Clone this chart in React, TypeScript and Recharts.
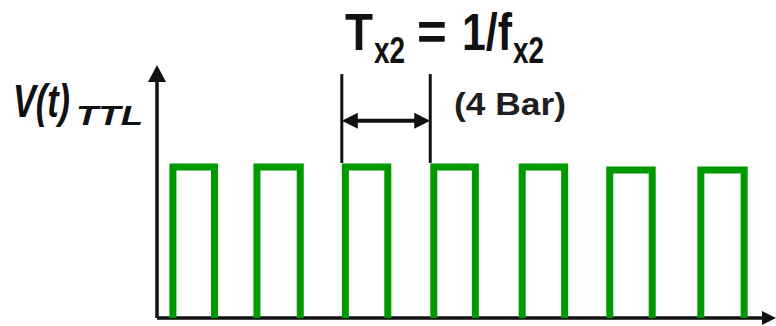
import { Line, LineChart, ReferenceDot, ReferenceLine, XAxis, YAxis } from "recharts";

// pulse edges in time units (x axis 0..7), levels in volts-ish units (y axis 0..10)
const riseTimes = [0.18, 1.13, 2.13, 3.13, 4.13, 5.12, 6.15];
const fallTimes = [0.65, 1.62, 2.61, 3.6, 4.61, 5.6, 6.64];
const highLevels = [5.97, 5.97, 5.97, 5.97, 5.97, 5.85, 5.85];
const lowLevels = [0, 0, 0, 0, 0, -0.12, -0.12];

const periodMarks = [2.09, 3.09];
const periodMarkRange = [6.13, 9.64];
const periodArrowLevel = 7.8;

const X_MAX = 7;
const Y_MAX = 10;

const GREEN = "#009900";
const INK = "#111";
const FONT = "'Liberation Sans', Arial, sans-serif";

type Pt = { t: number; v: number | null };

const wave: Pt[] = riseTimes.flatMap((r, i) => [
  { t: r, v: lowLevels[i] },
  { t: r, v: highLevels[i] },
  { t: fallTimes[i], v: highLevels[i] },
  { t: fallTimes[i], v: lowLevels[i] },
  { t: fallTimes[i] + 0.001, v: null },
]);

const arrowHead =
  (dir: "up" | "right" | "left", len: number, half: number) =>
  (p: any) => {
    const { cx, cy } = p;
    let pts = "";
    if (dir === "up") pts = `${cx},${cy} ${cx - half},${cy + len} ${cx + half},${cy + len}`;
    if (dir === "right") pts = `${cx},${cy} ${cx - len},${cy - half} ${cx - len},${cy + half}`;
    if (dir === "left") pts = `${cx},${cy} ${cx + len},${cy - half} ${cx + len},${cy + half}`;
    return <polygon points={pts} fill={INK} />;
  };

export default function App() {
  return (
    <div style={{ position: "absolute", left: 0, top: 0, width: 776, height: 326, background: "#fff" }}>
      <LineChart
        width={776}
        height={326}
        data={wave}
        margin={{ top: 65, right: 0, bottom: 8, left: 157 }}
      >
        <XAxis type="number" dataKey="t" domain={[0, X_MAX]} allowDataOverflow hide />
        <YAxis type="number" domain={[0, Y_MAX]} allowDataOverflow hide />
        {/* axes */}
        <ReferenceLine
          segment={[
            { x: 0, y: 0 },
            { x: X_MAX - 0.1, y: 0 },
          ]}
          stroke={INK}
          strokeWidth={3.5}
        />
        <ReferenceLine
          segment={[
            { x: 0, y: 0 },
            { x: 0, y: Y_MAX - 0.3 },
          ]}
          stroke={INK}
          strokeWidth={3.5}
        />
        {periodMarks.map((m) => (
          <ReferenceLine
            key={m}
            segment={[
              { x: m, y: periodMarkRange[0] },
              { x: m, y: periodMarkRange[1] },
            ]}
            stroke={INK}
            strokeWidth={3}
          />
        ))}
        <ReferenceLine
          segment={[
            { x: periodMarks[0] + 0.1, y: periodArrowLevel },
            { x: periodMarks[1] - 0.1, y: periodArrowLevel },
          ]}
          stroke={INK}
          strokeWidth={4}
        />
        <ReferenceDot x={periodMarks[0]} y={periodArrowLevel} shape={arrowHead("left", 16, 8)} />
        <ReferenceDot x={periodMarks[1]} y={periodArrowLevel} shape={arrowHead("right", 16, 8)} />
        <ReferenceDot x={X_MAX} y={0} shape={arrowHead("right", 14, 7)} />
        <ReferenceDot x={0} y={Y_MAX} shape={arrowHead("up", 17, 9)} />
        <Line
          type="linear"
          dataKey="v"
          stroke={GREEN}
          strokeWidth={7}
          dot={false}
          activeDot={false}
          connectNulls={false}
          isAnimationActive={false}
        />
      </LineChart>
      <svg
        width={776}
        height={326}
        style={{ position: "absolute", left: 0, top: 0, pointerEvents: "none" }}
        fontFamily={FONT}
        fill={INK}
      >
        {/* y axis label with subscript */}
        <text fontWeight="bold" fontStyle="italic">
          <tspan x={13} y={117} fontSize={47} textLength={57} lengthAdjust="spacingAndGlyphs">
            V(t)
          </tspan>
          <tspan x={76} y={125} fontSize={28} textLength={67} lengthAdjust="spacingAndGlyphs">
            TTL
          </tspan>
        </text>
        {/* period formula */}
        <text fontWeight="bold">
          <tspan x={345} y={50} fontSize={51} textLength={28} lengthAdjust="spacingAndGlyphs">
            T
          </tspan>
          <tspan x={374} y={63} fontSize={36} textLength={31} lengthAdjust="spacingAndGlyphs">
            x2
          </tspan>
          <tspan x={417} y={50} fontSize={51}>
            =
          </tspan>
          <tspan x={462} y={50} fontSize={51} textLength={50} lengthAdjust="spacingAndGlyphs">
            1/f
          </tspan>
          <tspan x={513} y={63} fontSize={36} textLength={31} lengthAdjust="spacingAndGlyphs">
            x2
          </tspan>
        </text>
        <text x={454} y={115} fontSize={31} fontWeight="bold" fill="#1e1e1e" textLength={112} lengthAdjust="spacingAndGlyphs">
          (4 Bar)
        </text>
      </svg>
    </div>
  );
}
